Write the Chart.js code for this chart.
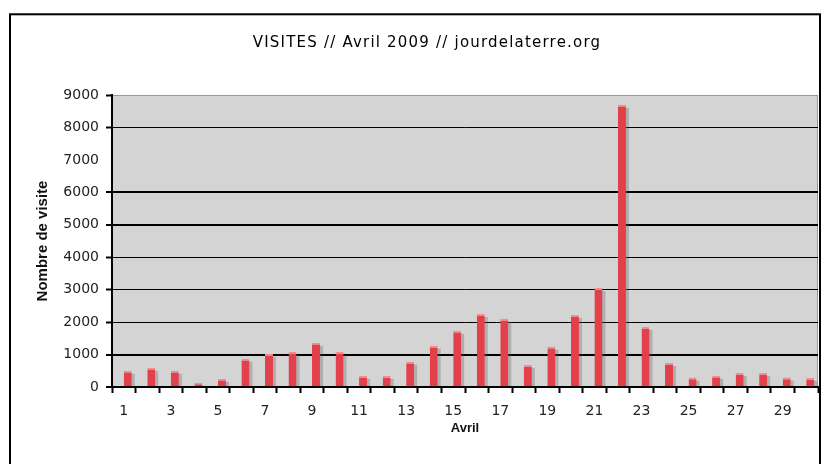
<!DOCTYPE html>
<html>
<head>
<meta charset="utf-8">
<script src="https://cdn.jsdelivr.net/npm/chart.js@4/dist/chart.umd.min.js"></script>
<style>
html,body{margin:0;padding:0;background:#fff;}
#wrap{width:821px;height:464px;position:relative;}
</style>
</head>
<body>
<div id="wrap"><canvas id="c"></canvas></div>
<script>
// ---- data ----
const days = ['1','2','3','4','5','6','7','8','9','10','11','12','13','14','15','16','17','18','19','20','21','22','23','24','25','26','27','28','29','30'];
const visites = [500,590,500,130,250,870,1020,1080,1360,1080,340,340,780,1270,1730,2250,2100,680,1240,2220,3050,8700,1850,740,290,350,430,430,290,280];
const serieB = [0,0,0,0,0,0,0,0,0,0,0,0,0,0,0,0,0,0,0,0,0,0,15,15,15,15,15,15,15,15];
const yTicks = [0,1000,2000,3000,4000,5000,6000,7000,8000,9000];
const chartTitle = 'VISITES // Avril 2009 // jourdelaterre.org';
const yTitle = 'Nombre de visite';
const xTitle = 'Avril';

Chart.defaults.font.family = "'DejaVu Sans', sans-serif";

const thickLines = [6000, 5000, 1000, 0];

const bgPlugin = {
  id: 'bg',
  beforeDraw(chart) {
    const {ctx, chartArea: a} = chart;
    ctx.save();
    ctx.fillStyle = '#fff';
    ctx.fillRect(0, 0, chart.width, chart.height);
    ctx.fillStyle = '#d4d4d4';
    ctx.fillRect(a.left, a.top, a.right - a.left, a.bottom - a.top);
    ctx.strokeStyle = '#999';
    ctx.lineWidth = 1;
    ctx.beginPath();
    ctx.moveTo(a.right - 0.5, a.top);
    ctx.lineTo(a.right - 0.5, a.bottom);
    ctx.stroke();
    ctx.strokeStyle = '#000';
    ctx.lineWidth = 2;
    ctx.strokeRect(10, 14.3, 810, 600);
    ctx.restore();
    const tb = chart.titleBlock;
    if (tb && !tb._patched) {
      const orig = tb.draw.bind(tb);
      tb.draw = function () {
        const c = chart.ctx;
        c.save();
        c.letterSpacing = '1.2px';
        c.translate(18, 0);
        orig();
        c.restore();
      };
      tb._patched = true;
    }
  }
};

// soft drop shadow to the right of each bar, taken from the bar elements
const shadowPlugin = {
  id: 'shadow',
  beforeDatasetsDraw(chart) {
    const c = chart.ctx;
    const a = chart.chartArea;
    const meta = chart.getDatasetMeta(1);
    c.save();
    c.beginPath();
    c.rect(a.left, a.top, a.right - a.left, a.bottom - a.top);
    c.clip();
    c.fillStyle = 'rgba(90,90,90,0.30)';
    meta.data.forEach(bar => {
      const p = bar.getProps(['x', 'y', 'width', 'base'], true);
      const h = p.base - p.y - 3;
      if (h > 0) c.fillRect(p.x - p.width / 2 + 3, p.y + 3, p.width, h);
    });
    c.restore();
  }
};

new Chart(document.getElementById('c'), {
  type: 'bar',
  data: {
    labels: days,
    datasets: [
      {
        label: 'B',
        data: serieB,
        backgroundColor: '#9cc8f0',
        borderWidth: 0
      },
      {
        label: 'Visites',
        data: visites,
        backgroundColor: '#e3404b',
        borderColor: '#ec8e95',
        borderWidth: {top: 2, left: 0, right: 0, bottom: 0},
        borderSkipped: 'bottom'
      }
    ]
  },
  options: {
    responsive: true,
    maintainAspectRatio: false,
    animation: false,
    devicePixelRatio: 1,
    categoryPercentage: 0.68,
    barPercentage: 1,
    layout: {padding: {left: 0, right: 3, top: 0, bottom: 0}},
    plugins: {
      legend: {display: false},
      tooltip: {enabled: false},
      title: {
        display: true,
        text: chartTitle,
        color: '#000',
        font: {family: "'DejaVu Sans', sans-serif", size: 15, weight: 'normal', lineHeight: 1.2},
        padding: {top: 34, bottom: 43}
      }
    },
    scales: {
      x: {
        afterFit(s) { s.height = 77; },
        grid: {
          display: true,
          offset: true,
          drawOnChartArea: false,
          drawTicks: true,
          tickLength: 6,
          tickColor: '#000',
          tickWidth: 2
        },
        border: {display: true, color: '#000', width: 2, z: 1},
        ticks: {
          autoSkip: false,
          maxRotation: 0,
          padding: 10,
          color: '#222',
          font: {size: 14},
          callback(val, i) { return i % 2 === 0 ? days[i] : ''; }
        },
        title: {
          display: true,
          text: xTitle,
          color: '#111',
          font: {family: "'Liberation Sans', sans-serif", size: 13, weight: 'bold', lineHeight: 1.2},
          padding: {top: 0, bottom: 28}
        }
      },
      y: {
        min: 0,
        max: 9000,
        afterFit(s) { s.width = 112; },
        afterBuildTicks(s) { s.ticks = yTicks.map(v => ({value: v})); },
        grid: {
          color(ctx) {
            const v = ctx.tick && ctx.tick.value;
            if (v === 7000) return 'rgba(0,0,0,0)';
            if (v === 9000) return '#999';
            return '#000';
          },
          lineWidth(ctx) {
            const v = ctx.tick && ctx.tick.value;
            return thickLines.includes(v) ? 2 : 1;
          },
          tickColor(ctx) {
            const v = ctx.tick && ctx.tick.value;
            return v === 7000 ? 'rgba(0,0,0,0)' : '#000';
          },
          tickWidth: 2,
          tickLength: 6
        },
        border: {display: true, color: '#000', width: 2, z: 1},
        ticks: {
          padding: 7,
          color: '#222',
          font: {size: 14},
          callback(v) { return String(v); }
        },
        title: {
          display: true,
          text: yTitle,
          color: '#111',
          font: {family: "'Liberation Sans', sans-serif", size: 15, weight: 'bold', lineHeight: 1.2},
          padding: {top: 34, bottom: 0}
        }
      }
    }
  },
  plugins: [bgPlugin, shadowPlugin]
});
</script>
</body>
</html>
